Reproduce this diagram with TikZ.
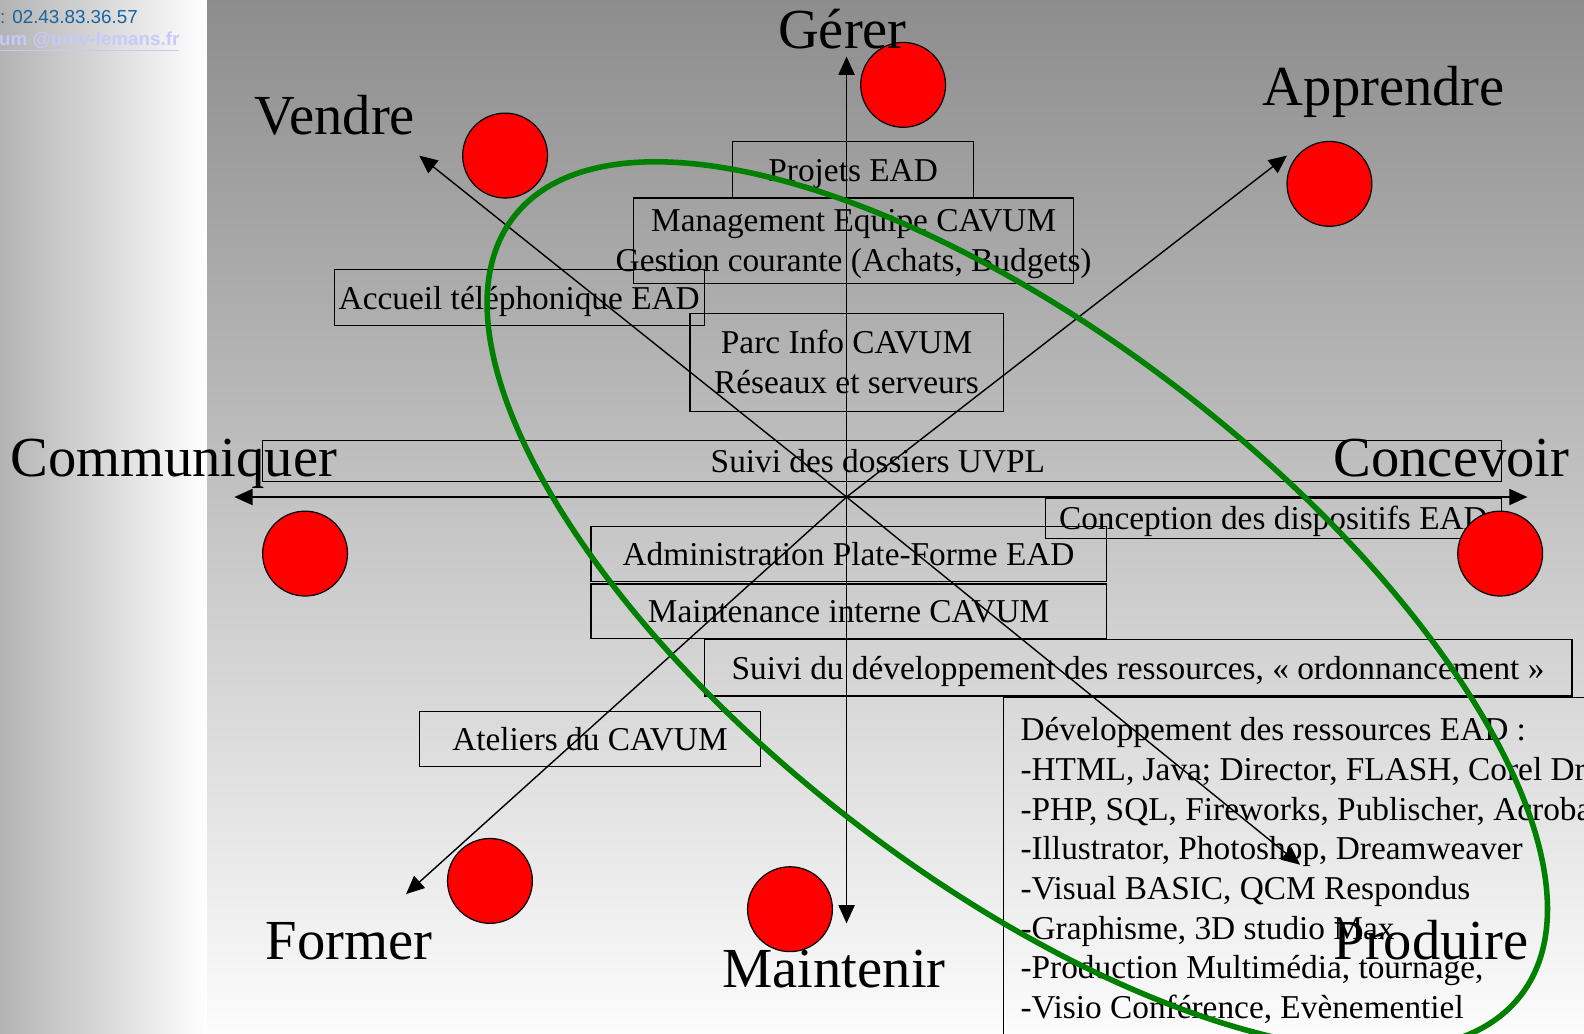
\documentclass[tikz,border=0pt]{standalone}
\usepackage{fontspec}
\setmainfont{Liberation Serif}
\newfontfamily\sansfont{Liberation Sans}
\usetikzlibrary{arrows.meta}
\usetikzlibrary{shapes}
\definecolor{cavumgreen}{RGB}{0,128,0}
\definecolor{telblue}{RGB}{25,100,160}
\definecolor{maillav}{RGB}{200,200,250}
\definecolor{bgtop}{RGB}{141,141,141}
\definecolor{bgbottom}{RGB}{252,252,252}

\begin{document}
\begin{tikzpicture}[x = 1pt, y = -1pt]
\tikzstyle{BoxStyle}=[draw, line width = 1.2pt, inner sep = 0pt,
                      font = \fontsize{33}{40}\selectfont, align = center]
\tikzstyle{OneLine}=[text height = 30pt, text depth = 7pt]
\tikzstyle{DotStyle}=[shape = circle, fill = red, draw, line width = 1.2pt,
                      minimum size = 84pt, inner sep = 0pt]
\tikzstyle{VerbStyle}=[anchor = base west, inner sep = 0pt,
                       font = \fontsize{56}{60}\selectfont]
\tikzstyle{AxisStyle}=[line width = 1.4pt,
                       -{Triangle[length = 18pt, width = 16pt]}]
\useasboundingbox (0,0) rectangle (1568,1023);
\clip (0,0) rectangle (1568,1023);
\shade[left color = gray!60, right color = white] (0,0) rectangle (205,1023);
\shade[top color = bgtop, bottom color = bgbottom] (205,0) rectangle (1568,1023);
\node[anchor = base west, inner sep = 0pt, text = telblue,
      font = \sansfont\fontsize{18.6}{20}\selectfont] (tel) at (0,23) {: 02.43.83.36.57};
\node[anchor = base west, inner sep = 0pt, text = maillav,
      font = \sansfont\bfseries\fontsize{18.6}{20}\selectfont] (mail) at (-1,45) {\underline{um @univ-lemans.fr}};
\node[BoxStyle, OneLine, minimum width = 239pt, minimum height = 56pt] (projets) at (844.5,168) {Projets EAD};
\node[BoxStyle, text height = 68pt, text depth = 7pt, minimum width = 436pt, minimum height = 85pt] (management) at (845,238.5)
     {Management Equipe CAVUM\\\makebox[0pt]{Gestion courante (Achats, Budgets)}};
\node[BoxStyle, OneLine, minimum width = 366pt, minimum height = 55pt] (accueil) at (514,294.5) {Accueil téléphonique EAD};
\node[BoxStyle, minimum width = 310pt, minimum height = 97pt] (parcinfo) at (838,358.5)
     {Parc Info CAVUM\\Réseaux et serveurs};
\node[BoxStyle, OneLine, minimum width = 1226pt, minimum height = 41pt] (dossiers) at (873,456.5) {\hspace{-8pt}Suivi des dossiers UVPL};
\node[BoxStyle, OneLine, minimum width = 451pt, minimum height = 40pt] (conception) at (1260.5,513) {Conception des dispositifs EAD};
\node[BoxStyle, OneLine, minimum width = 510pt, minimum height = 55pt] (admin) at (840,548.5) {Administration Plate-Forme EAD};
\node[BoxStyle, OneLine, minimum width = 510pt, minimum height = 54pt] (maintenance) at (840,605) {Maintenance interne CAVUM};
\node[BoxStyle, OneLine, minimum width = 859pt, minimum height = 56pt] (suividev) at (1126.5,661)
     {Suivi du développement des ressources, « ordonnancement »};
\node[BoxStyle, OneLine, minimum width = 338pt, minimum height = 55pt] (ateliers) at (584,731.5) {Ateliers du CAVUM};
\node[BoxStyle, anchor = north west, minimum width = 640pt, minimum height = 380pt] (devbox) at (993,690) {};
\node[anchor = north west, inner sep = 0pt, align = left,
      font = \fontsize{33}{39.3}\selectfont] (devtext) at (1010,710)
     {Développement des ressources EAD :\\
      -HTML, Java; Director, FLASH, Corel Draw\\
      -PHP, SQL, Fireworks, Publischer, Acrobat\\
      -Illustrator, Photoshop, Dreamweaver\\
      -Visual BASIC, QCM Respondus\\
      -Graphisme, 3D studio Max\\
      -Production Multimédia, tournage,\\
      -Visio Conférence, Evènementiel};
\coordinate (O) at (838,492);
\coordinate (tGerer) at (838,56);
\coordinate (tMaintenir) at (838,914);
\coordinate (tCommuniquer) at (232,492);
\coordinate (tConcevoir) at (1512,492);
\coordinate (tVendre) at (415,154);
\coordinate (tApprendre) at (1274,154);
\coordinate (tFormer) at (402,885);
\coordinate (tProduire) at (1287,856);
\draw[AxisStyle] (O) -- (tGerer);
\draw[AxisStyle] (O) -- (tMaintenir);
\draw[AxisStyle] (O) -- (tCommuniquer);
\draw[AxisStyle] (O) -- (tConcevoir);
\draw[AxisStyle] (O) -- (tVendre);
\draw[AxisStyle] (O) -- (tApprendre);
\draw[AxisStyle] (O) -- (tFormer);
\draw[AxisStyle] (O) -- (tProduire);
\node[DotStyle] (dGerer) at (894,84) {};
\node[DotStyle] (dVendre) at (500,154) {};
\node[DotStyle] (dApprendre) at (1316,182) {};
\node[DotStyle] (dCommuniquer) at (302,548) {};
\node[DotStyle] (dConcevoir) at (1485,548) {};
\node[DotStyle] (dFormer) at (485,872) {};
\node[DotStyle] (dMaintenir) at (782,900) {};
\node[VerbStyle] (Gerer) at (770,48) {Gérer};
\node[VerbStyle] (Vendre) at (252,133) {Vendre};
\node[VerbStyle] (Apprendre) at (1250,104) {Apprendre};
\node[VerbStyle] (Communiquer) at (10,472) {Communiquer};
\node[VerbStyle] (Concevoir) at (1320,472) {Concevoir};
\node[VerbStyle] (Former) at (263,950) {Former};
\node[VerbStyle] (Maintenir) at (715,978) {Maintenir};
\node[VerbStyle] (Produire) at (1320,950) {Produire};
\draw[cavumgreen, line width = 5.5pt, rotate around = {-37.7:(1007,600)}] (1007,600) ellipse (630 and 268);
\end{tikzpicture}
\end{document}
